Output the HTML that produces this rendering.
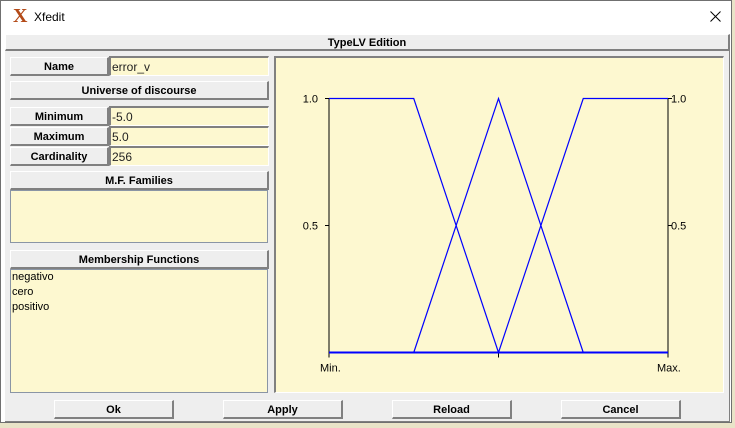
<!DOCTYPE html>
<html><head><meta charset="utf-8"><style>
*{box-sizing:border-box;margin:0;padding:0}
body{width:735px;height:428px;background:#e9e4c8;font-family:"Liberation Sans",sans-serif;position:relative;overflow:hidden}
.abs{position:absolute}
.btn{position:absolute;background:#eeeeee;border-top:1px solid #fff;border-left:1px solid #fff;border-right:2px solid #808080;border-bottom:2px solid #808080;font-weight:bold;font-size:11px;color:#000;text-align:center;line-height:15px;padding-top:2px}
.fld{position:absolute;background:#fdf8d0;border-top:2px solid #808080;border-left:2px solid #808080;border-bottom:1px solid #fff;border-right:1px solid #fff;font-size:12px;color:#222;padding-left:1px;line-height:15px;padding-top:2px}
.list{position:absolute;background:#fdf8d0;border:1px solid #8a95a5;font-size:11px;color:#000;line-height:15px;padding-left:1px}
</style></head><body>
<div class="abs" style="left:0;top:0;width:732px;height:423px;background:#fff;border:1px solid #707070"></div>
<div class="abs" style="left:1px;top:1px;width:730px;height:33px;background:#fff">
 <span class="abs" style="left:12px;top:4px;font-size:20px;font-weight:bold;color:#b34a18;font-family:'Liberation Serif',serif">X</span>
 <span class="abs" style="left:33px;top:9px;font-size:12px;color:#000">Xfedit</span>
 <svg class="abs" style="left:709px;top:10px" width="11" height="11"><path d="M0.5 0.5L10.5 10.5M10.5 0.5L0.5 10.5" stroke="#000" stroke-width="1"/></svg>
</div>
<div class="abs" style="left:5px;top:34px;width:725px;height:388px;background:#eeeeee;border-right:1px solid #808080;border-bottom:1px solid #808080"></div>
<div class="btn" style="left:5px;top:34px;width:725px;height:17px;padding-top:1px">TypeLV Edition</div>

<div class="btn" style="left:10px;top:57px;width:99px;height:19px">Name</div>
<div class="fld" style="left:109px;top:56px;width:160px;height:20px">error_v</div>
<div class="btn" style="left:10px;top:81px;width:259px;height:19px">Universe of discourse</div>
<div class="btn" style="left:10px;top:107px;width:99px;height:19px">Minimum</div>
<div class="fld" style="left:109px;top:106px;width:160px;height:20px">-5.0</div>
<div class="btn" style="left:10px;top:127px;width:99px;height:19px">Maximum</div>
<div class="fld" style="left:109px;top:126px;width:160px;height:20px">5.0</div>
<div class="btn" style="left:10px;top:147px;width:99px;height:19px">Cardinality</div>
<div class="fld" style="left:109px;top:146px;width:160px;height:20px">256</div>
<div class="btn" style="left:10px;top:171px;width:259px;height:19px">M.F. Families</div>
<div class="list" style="left:10px;top:190px;width:258px;height:53px"></div>
<div class="btn" style="left:10px;top:250px;width:259px;height:19px">Membership Functions</div>
<div class="list" style="left:10px;top:269px;width:258px;height:124px">
 <div>negativo</div>
 <div>cero</div>
 <div>positivo</div>
</div>

<div class="abs" style="left:274px;top:56px;width:450px;height:337px;background:#fdf8d0;border-top:2px solid #808080;border-left:2px solid #808080;border-right:1px solid #fff;border-bottom:1px solid #fff"></div>
<svg class="abs" style="left:0;top:0" width="735" height="428" id="chart"></svg>

<div class="btn" style="left:54px;top:400px;width:120px;height:19px">Ok</div>
<div class="btn" style="left:223px;top:400px;width:120px;height:19px">Apply</div>
<div class="btn" style="left:392px;top:400px;width:120px;height:19px">Reload</div>
<div class="btn" style="left:561px;top:400px;width:120px;height:19px">Cancel</div>

<script>
const mfNames = ["negativo","cero","positivo"];
const mfX = [[-5,-5,-2.5,0],[-2.5,0,0,2.5],[0,2.5,5,5]];
const mfY = [[1,1,1,0],[0,1,1,0],[0,1,1,1]];
const yTicks = [0.5,1.0];
const yTickLabels = ["0.5","1.0"];
const xMin = -5, xMax = 5;
const X0=329, X1=668, Y0=352.5, Y1=98.5;
const sx = v => X0 + (v - xMin) / (xMax - xMin) * (X1 - X0);
const sy = v => Y0 - v * (Y0 - Y1);
const svg = document.getElementById('chart');
const NS = 'http://www.w3.org/2000/svg';
function mk(tag, attrs){const e=document.createElementNS(NS,tag);for(const k in attrs)e.setAttribute(k,attrs[k]);svg.appendChild(e);return e;}
let e;
e = mk('line',{x1:X0,y1:Y1,x2:X0,y2:Y0+5,stroke:'#000','stroke-width':1});


e = mk('line',{x1:X1,y1:Y1,x2:X1,y2:Y0+5,stroke:'#000','stroke-width':1});


e = mk('line',{x1:sx(0),y1:Y0,x2:sx(0),y2:Y0+5,stroke:'#000','stroke-width':1});


yTicks.forEach((t,i)=>{
  e = mk('line',{x1:X0-4,y1:sy(t),x2:X0,y2:sy(t),stroke:'#000'});
  
  
  e = mk('line',{x1:X1,y1:sy(t),x2:X1+4,y2:sy(t),stroke:'#000'});
  
  
  e = mk('text',{x:X0-11,y:sy(t)+4,'font-size':11,'text-anchor':'end','font-family':'Liberation Sans, sans-serif'});
  e.textContent = yTickLabels[i];
  
  
  e = mk('text',{x:X1+3,y:sy(t)+4,'font-size':11,'font-family':'Liberation Sans, sans-serif'});
  e.textContent = yTickLabels[i];
  
  
});
e = mk('text',{x:X0-9,y:Y0+19,'font-size':11,'font-family':'Liberation Sans, sans-serif'});
e.textContent='Min.';


e = mk('text',{x:X1-11,y:Y0+19,'font-size':11,'font-family':'Liberation Sans, sans-serif'});
e.textContent='Max.';


e = mk('line',{x1:X0,y1:Y0,x2:X1,y2:Y0,stroke:'#0000ff','stroke-width':2});


mfNames.forEach((n,i)=>{
  const pts = mfX[i].map((x,j)=>sx(x)+','+sy(mfY[i][j])).join(' ');
  e = mk('polyline',{points:pts,fill:'none',stroke:'#0000ff','stroke-width':1.2});
  
  
});
</script>
</body></html>
